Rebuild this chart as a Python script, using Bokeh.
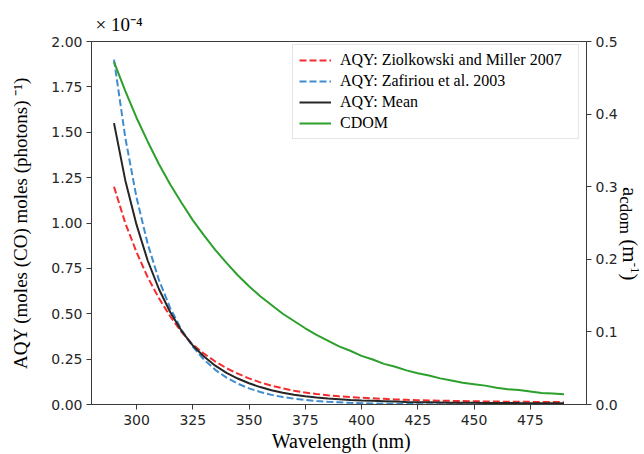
from bokeh.plotting import figure
from bokeh.layouts import row
from bokeh.models import (LinearAxis, Range1d, FixedTicker, PrintfTickFormatter,
                          Legend, LegendItem, Label, Div)
from bokeh.embed import file_html
from bokeh.resources import INLINE

wavelength = [290, 295, 300, 305, 310, 315, 320, 325, 330, 335, 340, 345, 350, 355,
              360, 365, 370, 375, 380, 385, 390, 395, 400, 405, 410, 415, 420, 425,
              430, 435, 440, 445, 450, 455, 460, 465, 470, 475, 480, 485, 490]

aqy_ziolkowski = [1.20, 1.00, 0.84, 0.70, 0.585, 0.485, 0.40, 0.33, 0.28, 0.237, 0.200,
                  0.170, 0.144, 0.122, 0.104, 0.089, 0.076, 0.066, 0.058, 0.051, 0.045,
                  0.041, 0.037, 0.034, 0.031, 0.028, 0.026, 0.024, 0.022, 0.021, 0.020,
                  0.019, 0.018, 0.017, 0.016, 0.0155, 0.015, 0.0145, 0.014, 0.0135, 0.013]

aqy_zafiriou = [1.900, 1.472, 1.141, 0.884, 0.685, 0.531, 0.411, 0.319, 0.247, 0.191,
                0.148, 0.115, 0.089, 0.069, 0.053, 0.041, 0.032, 0.025, 0.019, 0.015,
                0.012, 0.009, 0.007, 0.0054, 0.0042, 0.0033, 0.0025, 0.0020, 0.0015,
                0.0012, 0.0009, 0.0007, 0.0006, 0.0004, 0.0003, 0.0003, 0.0002, 0.0002,
                0.0001, 0.0001, 0.0001]

aqy_mean = [1.55, 1.236, 0.991, 0.792, 0.635, 0.508, 0.406, 0.325, 0.264, 0.214, 0.174,
            0.143, 0.117, 0.096, 0.079, 0.065, 0.054, 0.046, 0.039, 0.033, 0.029, 0.025,
            0.022, 0.020, 0.018, 0.016, 0.014, 0.013, 0.012, 0.011, 0.010, 0.0099,
            0.0093, 0.0087, 0.0082, 0.0079, 0.0076, 0.0074, 0.0071, 0.0068, 0.0066]

cdom = [0.472, 0.432, 0.395, 0.362, 0.331, 0.303, 0.278, 0.254, 0.233, 0.213, 0.195,
        0.178, 0.163, 0.149, 0.137, 0.125, 0.115, 0.105, 0.096, 0.088, 0.080, 0.074,
        0.067, 0.062, 0.056, 0.052, 0.047, 0.043, 0.040, 0.036, 0.033, 0.030, 0.028,
        0.026, 0.023, 0.021, 0.020, 0.018, 0.016, 0.015, 0.014]

x_ticks = [300, 325, 350, 375, 400, 425, 450, 475]
left_ticks = [0.0, 0.25, 0.5, 0.75, 1.0, 1.25, 1.5, 1.75, 2.0]
right_ticks = [0.0, 0.1, 0.2, 0.3, 0.4, 0.5]

legend_labels = ["AQY: Ziolkowski and Miller 2007", "AQY: Zafiriou et al. 2003",
                 "AQY: Mean", "CDOM"]

SERIF = "Liberation Serif"
SANS = "DejaVu Sans"
AXC = "#3a3a3a"
TXT = "#262626"

p = figure(width=620, height=454, x_range=Range1d(280, 500), y_range=Range1d(0, 2),
           output_backend="svg", toolbar_location=None,
           min_border_left=91, min_border_right=32, min_border_top=41, min_border_bottom=50)
p.extra_y_ranges = {"cdom": Range1d(0, 0.5)}

p.xgrid.visible = False
p.ygrid.visible = False
p.outline_line_color = AXC
p.outline_line_width = 1
p.background_fill_color = "white"
p.border_fill_color = "white"

r_z = p.line(wavelength, aqy_ziolkowski, line_color="#f42c2c", line_width=2, line_dash="7 3")
r_f = p.line(wavelength, aqy_zafiriou, line_color="#3f8ccf", line_width=2, line_dash="7 3")
r_m = p.line(wavelength, aqy_mean, line_color="#262626", line_width=2)
r_c = p.line(wavelength, cdom, line_color="#2ca02c", line_width=2, y_range_name="cdom")

ax_r = LinearAxis(y_range_name="cdom")
p.add_layout(ax_r, "right")

for ax, ticks, fmt in [(p.xaxis[0], x_ticks, "%d"), (p.yaxis[0], left_ticks, "%.2f"),
                       (ax_r, right_ticks, "%.1f")]:
    ax.ticker = FixedTicker(ticks=ticks)
    ax.formatter = PrintfTickFormatter(format=fmt)
    ax.minor_tick_line_color = None
    ax.major_tick_out = 5
    ax.major_tick_in = 0
    ax.major_tick_line_color = AXC
    ax.axis_line_color = AXC
    ax.major_label_text_font = SANS
    ax.major_label_text_font_size = "14px"
    ax.major_label_text_color = TXT
    ax.major_label_standoff = 4
p.xaxis[0].major_label_standoff = 5

p.yaxis[0].axis_label = "AQY (moles (CO) moles (photons) \u207b\u00b9)"
p.yaxis[0].axis_label_text_font = SERIF
p.yaxis[0].axis_label_text_font_size = "19px"
p.yaxis[0].axis_label_text_font_style = "normal"
p.yaxis[0].axis_label_text_color = "black"
p.yaxis[0].axis_label_standoff = 17

# x-axis title (in the bottom panel, so it is not clipped to the frame)
p.add_layout(Label(x=391, y=-0.143, text="Wavelength (nm)", text_font=SERIF,
                   text_font_size="20px", text_align="center", text_baseline="top",
                   text_color="black"), "below")

# scale factor of the left axis
p.add_layout(Label(x=281.8, y=2.094, text="\u00d7 10\u207b\u2074", text_font=SERIF,
                   text_font_size="19px", text_align="left", text_baseline="middle",
                   text_color="black"), "above")

legend = Legend(items=[LegendItem(label=legend_labels[0], renderers=[r_z]),
                       LegendItem(label=legend_labels[1], renderers=[r_f]),
                       LegendItem(label=legend_labels[2], renderers=[r_m]),
                       LegendItem(label=legend_labels[3], renderers=[r_c])],
                location=(201, 265))
legend.label_text_font = SERIF
legend.label_text_font_size = "16px"
legend.label_text_color = "black"
legend.glyph_width = 32
legend.glyph_height = 18
legend.label_height = 18
legend.label_width = 232
legend.spacing = 3
legend.padding = 6
legend.margin = 0
legend.label_standoff = 9
legend.border_line_color = "#cccccc"
legend.border_line_width = 1
legend.background_fill_color = "white"
legend.background_fill_alpha = 1
p.add_layout(legend)

# right axis title a_cdom (m^-1), reading top to bottom
right_title = Div(
    width=24, height=454,
    text=('<div style="padding-top:182px;">'
          '<div style="writing-mode:vertical-rl; white-space:nowrap; width:21px; '
          'margin-left:-6px; font-family:\'Liberation Serif\'; font-size:21px; '
          'line-height:21px; color:black;">'
          'a<sub style="font-size:17px; line-height:0;">cdom</sub> '
          '(m<sup style="font-size:13px; line-height:0; vertical-align:5px;">-1</sup>)'
          '</div></div>'))

layout = row(p, right_title)

open("out.html", "w").write(file_html(layout, INLINE))
